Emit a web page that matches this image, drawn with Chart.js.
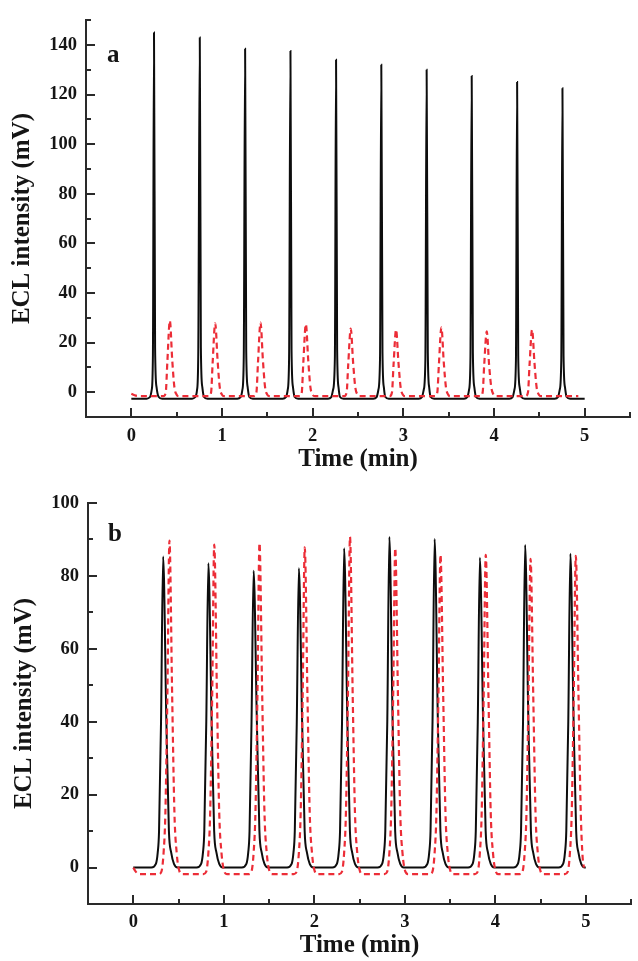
<!DOCTYPE html>
<html>
<head>
<meta charset="utf-8">
<script src="https://cdn.jsdelivr.net/npm/chart.js@4"></script>
<style>
  html, body { margin: 0; padding: 0; background: #fff; }
  #wrapA { position: absolute; left: 0; top: 0; width: 638px; height: 480px; }
  #wrapB { position: absolute; left: 0; top: 480px; width: 638px; height: 481px; }
</style>
</head>
<body>
<div id="wrapA"><canvas id="chartA" width="638" height="480"></canvas></div>
<div id="wrapB"><canvas id="chartB" width="638" height="481"></canvas></div>
<script>
// ---------------- DATA ----------------
const X_TICK_LABELS = ['0', '1', '2', '3', '4', '5'];
const A_Y_TICK_LABELS = ['0', '20', '40', '60', '80', '100', '120', '140'];
const B_Y_TICK_LABELS = ['0', '20', '40', '60', '80', '100'];

// Panel a, black solid trace
const A_BLACK_T = [0,
  0.17,0.205,0.225,0.238,0.25,0.262,0.278,0.30,0.34,
  0.67,0.705,0.725,0.738,0.755,0.767,0.783,0.80,0.84,
  1.17,1.205,1.225,1.24,1.255,1.267,1.283,1.30,1.34,
  1.67,1.705,1.725,1.74,1.755,1.767,1.783,1.80,1.84,
  2.17,2.205,2.225,2.245,2.258,2.27,2.285,2.30,2.34,
  2.67,2.705,2.725,2.743,2.757,2.77,2.785,2.80,2.84,
  3.17,3.205,3.225,3.243,3.257,3.27,3.285,3.30,3.34,
  3.67,3.705,3.725,3.74,3.754,3.767,3.783,3.80,3.84,
  4.17,4.205,4.225,4.242,4.255,4.267,4.283,4.30,4.34,
  4.67,4.705,4.725,4.742,4.755,4.767,4.783,4.80,4.84,
  5.0];
const A_BLACK_Y = [-2.6,
  -2.6,-2,1,15,145,18,2,-1.8,-2.6,
  -2.6,-2,1,15,143,18,2,-1.8,-2.6,
  -2.6,-2,1,14,138.5,17,2,-1.8,-2.6,
  -2.6,-2,1,14,137.5,17,2,-1.8,-2.6,
  -2.6,-2,1,14,134,17,2,-1.8,-2.6,
  -2.6,-2,1,14,132,16,2,-1.8,-2.6,
  -2.6,-2,1,13,130,16,2,-1.8,-2.6,
  -2.6,-2,1,13,127.5,16,2,-1.8,-2.6,
  -2.6,-2,1,13,125,15,2,-1.8,-2.6,
  -2.6,-2,1,13,122.5,15,2,-1.8,-2.6,
  -2.6];

// Panel a, red dashed trace
const A_RED_T = [0,0.05,0.1,
  0.355,0.38,0.397,0.425,0.451,0.475,0.50,0.525,
  0.855,0.88,0.897,0.925,0.951,0.975,1.00,1.025,
  1.355,1.38,1.397,1.425,1.451,1.475,1.50,1.525,
  1.855,1.88,1.897,1.925,1.951,1.975,2.00,2.025,
  2.35,2.375,2.392,2.42,2.446,2.47,2.495,2.52,
  2.85,2.875,2.892,2.92,2.946,2.97,2.995,3.02,
  3.35,3.375,3.392,3.42,3.446,3.47,3.495,3.52,
  3.85,3.875,3.892,3.92,3.946,3.97,3.995,4.02,
  4.35,4.375,4.392,4.42,4.446,4.47,4.495,4.52,
  4.93];
const A_RED_Y = [-0.6,-1.4,-1.6,
  -1.6,0,12,28.8,13,2,-1,-1.6,
  -1.6,0,12,27.8,13,2,-1,-1.6,
  -1.6,0,12,28.1,13,2,-1,-1.6,
  -1.6,0,12,27.4,13,2,-1,-1.6,
  -1.6,0,11,25.6,12,2,-1,-1.6,
  -1.6,0,11,25.2,12,2,-1,-1.6,
  -1.6,0,11,26.1,12,2,-1,-1.6,
  -1.6,0,11,24.5,11,2,-1,-1.6,
  -1.6,0,11,25.2,12,2,-1,-1.6,
  -1.6];

// Panel b, black solid trace
const B_BLACK_T = [0,
  0.20,0.25,0.27,0.285,0.307,0.33,0.366,0.394,0.42,0.45,0.49,
  0.70,0.75,0.77,0.785,0.807,0.83,0.866,0.894,0.92,0.95,0.99,
  1.20,1.25,1.27,1.285,1.307,1.33,1.366,1.394,1.42,1.45,1.49,
  1.70,1.75,1.77,1.785,1.807,1.83,1.866,1.894,1.92,1.95,1.99,
  2.20,2.25,2.27,2.285,2.307,2.33,2.366,2.394,2.42,2.45,2.49,
  2.70,2.75,2.77,2.785,2.807,2.83,2.866,2.894,2.92,2.95,2.99,
  3.20,3.25,3.27,3.285,3.307,3.33,3.366,3.394,3.42,3.45,3.49,
  3.70,3.75,3.77,3.785,3.807,3.83,3.866,3.894,3.92,3.95,3.99,
  4.20,4.25,4.27,4.285,4.307,4.33,4.366,4.394,4.42,4.45,4.49,
  4.70,4.75,4.77,4.785,4.807,4.83,4.866,4.894,4.92,4.95,4.99,
  5.0];
const B_BLACK_Y = [0,
  0,1,4,10,40,85.3,40,10,4,1,0,
  0,1,4,10,40,83.5,40,10,4,1,0,
  0,1,4,10,40,81.4,40,10,4,1,0,
  0,1,4,10,40,82.1,40,10,4,1,0,
  0,1,4,10,40,87.6,40,10,4,1,0,
  0,1,4,10,40,90.7,40,10,4,1,0,
  0,1,4,10,40,90.1,40,10,4,1,0,
  0,1,4,10,40,85.0,40,10,4,1,0,
  0,1,4,10,40,88.5,40,10,4,1,0,
  0,1,4,10,40,86.1,40,10,4,1,0,
  0];

// Panel b, red dashed trace
const B_RED_T = [0,0.03,0.06,
  0.28,0.31,0.335,0.355,0.377,0.40,0.43,0.455,0.48,0.51,0.54,
  0.775,0.805,0.83,0.85,0.872,0.895,0.925,0.95,0.975,1.005,1.035,
  1.275,1.305,1.33,1.35,1.372,1.395,1.425,1.45,1.475,1.505,1.535,
  1.775,1.805,1.83,1.85,1.872,1.895,1.925,1.95,1.975,2.005,2.035,
  2.275,2.305,2.33,2.35,2.372,2.395,2.425,2.45,2.475,2.505,2.535,
  2.775,2.805,2.83,2.85,2.872,2.895,2.925,2.95,2.975,3.005,3.035,
  3.275,3.305,3.33,3.35,3.372,3.395,3.425,3.45,3.475,3.505,3.535,
  3.775,3.805,3.83,3.85,3.872,3.895,3.925,3.95,3.975,4.005,4.035,
  4.27,4.30,4.325,4.345,4.367,4.39,4.42,4.445,4.47,4.50,4.53,
  4.77,4.80,4.825,4.845,4.867,4.89,4.92,4.945,4.965,4.98];
const B_RED_Y = [0,-1.2,-1.8,
  -1.8,-1.2,4,15,47,89.7,47,15,4,-1,-1.8,
  -1.8,-1.2,4,15,47,88.6,47,15,4,-1,-1.8,
  -1.8,-1.2,4,15,47,89.0,47,15,4,-1,-1.8,
  -1.8,-1.2,4,15,47,87.8,47,15,4,-1,-1.8,
  -1.8,-1.2,4,15,47,90.7,47,15,4,-1,-1.8,
  -1.8,-1.2,4,15,47,87.6,47,15,4,-1,-1.8,
  -1.8,-1.2,4,15,47,85.8,47,15,4,-1,-1.8,
  -1.8,-1.2,4,15,47,85.8,47,15,4,-1,-1.8,
  -1.8,-1.2,4,15,47,84.7,47,15,4,-1,-1.8,
  -1.8,-1.2,4,15,47,85.5,47,15,3,0];

// ---------------- RENDERING ----------------
const FONT = '"Liberation Serif", "Times New Roman", Times, serif';
const INK = '#151515';
const AXIS = '#2a2a2a';
const RED = 'rgb(236,45,55)';
Chart.defaults.font.family = FONT;
Chart.defaults.color = INK;

function pts(ts, ys) { return ts.map((t, i) => ({ x: t, y: ys[i] })); }
function near(a, b) { return Math.abs(a - b) < 1e-6; }

const inwardTicks = {
  id: 'inwardTicks',
  afterDraw(chart, args, opts) {
    const { ctx, chartArea: ca, scales: { x, y } } = chart;
    ctx.save();
    ctx.strokeStyle = AXIS;
    ctx.lineWidth = 2;
    x.ticks.forEach(t => {
      if (near(t.value, x.min)) return;
      const major = X_TICK_LABELS.includes(String(Math.round(t.value))) && near(t.value, Math.round(t.value));
      const len = major ? 9 : 5;
      const px = Math.round(x.getPixelForValue(t.value));
      ctx.beginPath(); ctx.moveTo(px, ca.bottom); ctx.lineTo(px, ca.bottom - len); ctx.stroke();
    });
    y.ticks.forEach(t => {
      if (near(t.value, y.min)) return;
      const major = opts.yLabels.includes(String(Math.round(t.value))) && near(t.value, Math.round(t.value));
      const len = major ? 9 : 5;
      const py = Math.round(y.getPixelForValue(t.value));
      ctx.beginPath(); ctx.moveTo(ca.left, py); ctx.lineTo(ca.left + len, py); ctx.stroke();
    });
    ctx.fillStyle = INK;
    ctx.font = 'bold 25px ' + FONT;
    ctx.textBaseline = 'alphabetic';
    ctx.textAlign = 'left';
    ctx.fillText(opts.letter, opts.lx, opts.ly);
    ctx.restore();
  }
};

function makeChart(id, cfg) {
  return new Chart(document.getElementById(id), {
    type: 'line',
    data: {
      datasets: [
        { data: pts(cfg.redT, cfg.redY), borderColor: RED, borderWidth: 2.2, borderDash: [6, 4],
          pointRadius: 0, cubicInterpolationMode: 'monotone', fill: false },
        { data: pts(cfg.blackT, cfg.blackY), borderColor: '#0d0d0d', borderWidth: 2,
          pointRadius: 0, cubicInterpolationMode: 'monotone', fill: false }
      ]
    },
    options: {
      responsive: false,
      animation: false,
      devicePixelRatio: 1,
      layout: { padding: { top: cfg.padTop, right: 1, left: 0, bottom: 0 } },
      plugins: {
        legend: { display: false },
        tooltip: { enabled: false },
        inwardTicks: { letter: cfg.letter, lx: cfg.lx, ly: cfg.ly, yLabels: cfg.yLabels }
      },
      scales: {
        x: {
          type: 'linear', min: -0.5, max: 5.5,
          afterFit: s => { s.height = cfg.xHeight; },
          grid: { display: true, drawOnChartArea: false, drawTicks: false },
          border: { display: true, color: AXIS, width: 2 },
          ticks: {
            stepSize: 0.5, autoSkip: false, maxRotation: 0, padding: cfg.xPad,
            font: { size: 18.5, weight: 'bold' }, color: INK,
            callback: v => {
              const r = Math.round(v);
              return (near(v, r) && X_TICK_LABELS.includes(String(r))) ? String(r) : '';
            }
          },
          title: { display: true, text: 'Time (min)', color: INK,
            font: { size: 25, weight: 'bold' }, padding: { top: 0, bottom: cfg.xTitlePad } }
        },
        y: {
          min: cfg.yMin, max: cfg.yMax,
          afterFit: s => { s.width = cfg.yWidth; },
          grid: { display: true, drawOnChartArea: false, drawTicks: false },
          border: { display: true, color: AXIS, width: 2 },
          ticks: {
            stepSize: 10, autoSkip: false, padding: 9,
            font: { size: 18.5, weight: 'bold' }, color: INK,
            callback: v => {
              const r = Math.round(v);
              return (near(v, r) && cfg.yLabels.includes(String(r))) ? String(r) : '';
            }
          },
          title: { display: true, text: 'ECL intensity (mV)', color: INK,
            font: { size: 25, weight: 'bold' }, padding: { top: cfg.yTitlePad, bottom: 0 } }
        }
      }
    },
    plugins: [inwardTicks]
  });
}

makeChart('chartA', {
  redT: A_RED_T, redY: A_RED_Y, blackT: A_BLACK_T, blackY: A_BLACK_Y,
  yMin: -10, yMax: 150, yLabels: A_Y_TICK_LABELS,
  padTop: 14, yWidth: 86, xHeight: 63, xPad: 8, xTitlePad: 5, yTitlePad: 8,
  letter: 'a', lx: 107, ly: 62
});
makeChart('chartB', {
  redT: B_RED_T, redY: B_RED_Y, blackT: B_BLACK_T, blackY: B_BLACK_Y,
  yMin: -10, yMax: 100, yLabels: B_Y_TICK_LABELS,
  padTop: 23, yWidth: 88, xHeight: 57, xPad: 7, xTitlePad: 0, yTitlePad: 10,
  letter: 'b', lx: 108, ly: 61
});
</script>
</body>
</html>
